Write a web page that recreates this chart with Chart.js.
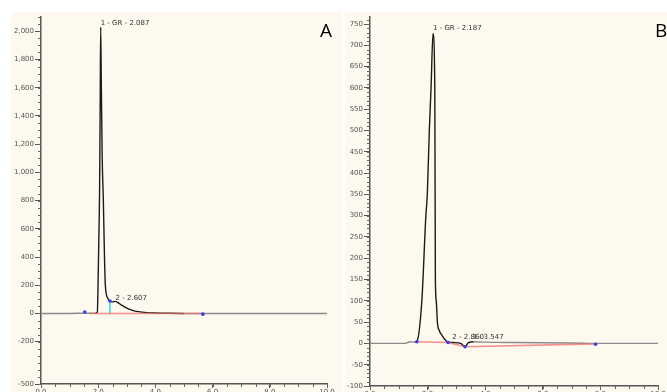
<!DOCTYPE html>
<html>
<head>
<meta charset="utf-8">
<script src="https://cdn.jsdelivr.net/npm/chart.js@4"></script>
<style>
  body { margin: 0; background: #fff; width: 667px; height: 392px; overflow: hidden; position: relative; }
  .panel { position: absolute; top: 12px; height: 380px; background: #fdf9ee; }
  #panelA { left: 11px; width: 331px; }
  #panelB { left: 345px; width: 322px; }
  .letter { position: absolute; top: 17px; font: 19px 'Open Sans', sans-serif; color: #000; }
</style>
</head>
<body>
<div class="panel" id="panelA"><canvas id="chartA" width="331" height="380"></canvas></div>
<div class="panel" id="panelB"><canvas id="chartB" width="322" height="380"></canvas></div>
<div class="letter" style="left:320px">A</div>
<div class="letter" style="left:655px">B</div>
<script>
// --- panel A ---
const timeA   = [0, 1.0, 1.5, 1.9, 1.97, 1.99, 2.02, 2.05, 2.07, 2.087, 2.11, 2.14, 2.18, 2.22, 2.25, 2.33, 2.41, 2.5, 2.607, 2.7, 2.85, 3.0, 3.2, 3.4, 3.7, 4.0, 4.5, 5.0, 6.0, 8.4, 10.0];
const signalA = [0, 0, 2, 2, 10, 150, 500, 900, 1500, 2030, 1600, 1100, 800, 400, 200, 110, 88, 82, 86, 75, 55, 38, 22, 13, 6, 3, 1, 0, 0, 0, 0];
const baseTimeA = [1.7, 5.66];
const baseA     = [0, 0];
const markTimeA = [1.53, 2.41, 5.66];
const markA     = [10, 88, -5];
const dropTimeA = [2.41, 2.41];
const dropA     = [0, 88];
const peaksA = [
  { t: 2.087, v: 2030, text: '1 - GR - 2.087' },
  { t: 2.607, v: 84, text: '2 - 2.607' }
];
const yTicksA = [-500, -200, 0, 200, 400, 600, 800, 1000, 1200, 1400, 1600, 1800, 2000];

// --- panel B ---
const timeB   = [0, 1.2, 1.4, 1.55, 1.63, 1.8, 1.94, 1.99, 2.06, 2.12, 2.187, 2.25, 2.27, 2.30, 2.34, 2.42, 2.49, 2.6, 2.71, 2.9, 3.15, 3.3, 3.42, 3.6, 4.0, 5.0, 7.0, 7.83, 10.0];
const signalB = [0, 0, 4, 3, 5, 100, 300, 350, 500, 600, 728, 600, 150, 100, 50, 28, 20, 9, 3, 2, 0, -8, 2, 4, 3, 2, 1, 0, 0];
const baseTimeB = [1.63, 2.71, 3.3, 7.83];
const baseB     = [4, 2, -8, -1];
const markTimeB = [1.63, 2.71, 3.3, 7.83];
const markB     = [4, 2, -8, -2];
const peaksB = [
  { t: 2.187, v: 731, text: '1 - GR - 2.187' },
  { t: 2.86, v: 7, text: '2 - 2.860' },
  { t: 3.547, v: 7, text: '3 - 3.547' }
];
const yTicksB = [-100, -50, 0, 50, 100, 150, 200, 250, 300, 350, 400, 450, 500, 550, 600, 650, 700, 750];

const xTicks = [0, 2, 4, 6, 8, 10];

const pts = (xs, ys) => xs.map((x, i) => ({ x: x, y: ys[i] }));

// minor ticks + peak labels
const extras = {
  id: 'extras',
  afterDraw(chart, args, opts) {
    const ctx = chart.ctx, xs = chart.scales.x, ys = chart.scales.y;
    ctx.save();
    ctx.strokeStyle = '#666';
    ctx.lineWidth = 1;
    ctx.beginPath();
    for (let v = Math.ceil(ys.min / opts.yMinor) * opts.yMinor; v <= ys.max; v += opts.yMinor) {
      const p = Math.round(ys.getPixelForValue(v)) + 0.5;
      ctx.moveTo(xs.left - 3, p);
      ctx.lineTo(xs.left, p);
    }
    for (let v = 0; v <= 10; v += 0.5) {
      const p = Math.round(xs.getPixelForValue(v)) + 0.5;
      ctx.moveTo(p, ys.bottom);
      ctx.lineTo(p, ys.bottom + 3);
    }
    ctx.stroke();
    ctx.fillStyle = '#333';
    ctx.font = '7px "DejaVu Sans"';
    ctx.textAlign = 'left';
    ctx.textBaseline = 'bottom';
    opts.peaks.forEach(p => {
      ctx.fillText(p.text, xs.getPixelForValue(p.t), ys.getPixelForValue(p.v));
    });
    ctx.restore();
  }
};

function makeChart(id, s) {
  const datasets = [
    { data: pts(s.markTime, s.mark), showLine: false, pointRadius: 1.8, pointBackgroundColor: '#3040f0', pointBorderWidth: 0 },
    { data: pts(s.baseTime, s.base), showLine: true, borderColor: 'rgba(240,110,110,0.75)', borderWidth: 1.6, pointRadius: 0 },
  ];
  if (s.dropTime) {
    datasets.push({ data: pts(s.dropTime, s.drop), showLine: true, borderColor: '#10d0e8', borderWidth: 1.3, pointRadius: 0 });
  }
  datasets.push({
    data: pts(s.time, s.signal), showLine: true, borderWidth: 1.4, pointRadius: 0, cubicInterpolationMode: 'monotone',
    segment: {
      borderColor: c => (c.p0.parsed.x >= s.dark[0] && c.p1.parsed.x <= s.dark[1]) ? '#1a1a1a' : '#8c8c8c'
    }
  });

  return new Chart(document.getElementById(id), {
    type: 'scatter',
    data: { datasets: datasets },
    options: {
      responsive: false,
      devicePixelRatio: 1,
      animation: false,
      layout: { padding: { left: 0, right: s.padRight, top: 0, bottom: 0 } },
      plugins: {
        legend: { display: false },
        tooltip: { enabled: false },
        extras: { yMinor: s.yMinor, peaks: s.peaks }
      },
      elements: { line: { fill: false } },
      scales: {
        x: {
          type: 'linear', min: 0, max: 10,
          afterBuildTicks: sc => { sc.ticks = xTicks.map(v => ({ value: v })); },
          afterFit: sc => { sc.height = s.xHeight; },
          grid: { drawOnChartArea: false, tickLength: 4, color: '#555' },
          border: { color: '#555', width: 1.5 },
          ticks: { color: '#555', padding: 0, maxRotation: 0, font: { family: 'DejaVu Sans', size: 7 }, callback: v => v.toFixed(1) }
        },
        y: {
          min: s.yMin, max: s.yMax,
          afterBuildTicks: sc => { sc.ticks = s.yTicks.map(v => ({ value: v })); },
          afterFit: sc => { sc.width = s.yWidth; },
          grid: { drawOnChartArea: false, tickLength: 6, color: '#555' },
          border: { color: '#555', width: 1.5 },
          ticks: { color: '#555', padding: 1, font: { family: 'DejaVu Sans', size: 7 }, callback: v => v.toLocaleString('en-US') }
        }
      }
    },
    plugins: [extras]
  });
}

makeChart('chartA', {
  time: timeA, signal: signalA, baseTime: baseTimeA, base: baseA,
  markTime: markTimeA, mark: markA, dropTime: dropTimeA, drop: dropA,
  peaks: peaksA, yTicks: yTicksA, yMin: -500, yMax: 2100, yMinor: 50,
  dark: [1.9, 5.0], padRight: 15, yWidth: 30, xHeight: 8
});

makeChart('chartB', {
  time: timeB, signal: signalB, baseTime: baseTimeB, base: baseB,
  markTime: markTimeB, mark: markB,
  peaks: peaksB, yTicks: yTicksB, yMin: -100, yMax: 766, yMinor: 10,
  dark: [1.55, 3.6], padRight: 9, yWidth: 25, xHeight: 6
});
</script>
</body>
</html>
